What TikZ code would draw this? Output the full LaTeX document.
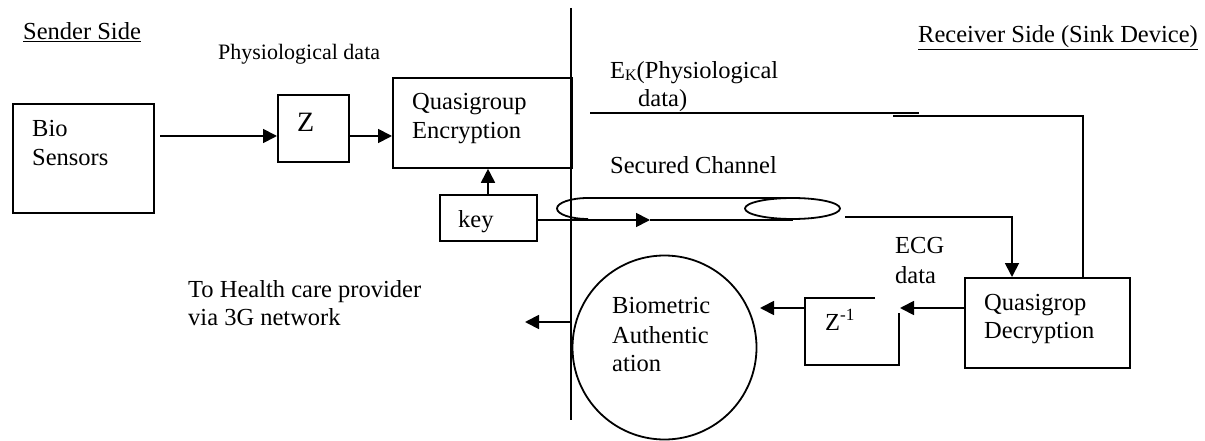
\documentclass[tikz,border=0pt]{standalone}
\usepackage{fontspec}
\setmainfont{Liberation Serif}
\usetikzlibrary{arrows.meta}
\begin{document}
\begin{tikzpicture}[x=1pt,y=-1pt,
  ln/.style={line width=1.8pt},
  tip/.style={-{Triangle[length=14pt,width=14pt]}},
  box/.style={draw,line width=1.8pt,inner sep=0pt,anchor=north west},
  txt/.style={anchor=base west,inner sep=0pt,font=\fontsize{24.5}{28}\selectfont},
  small/.style={anchor=base west,inner sep=0pt,font=\fontsize{22}{26}\selectfont}]
\useasboundingbox (0,0) rectangle (1205,441);
% headings
\node[txt] (sender) at (23,40) {\underline{Sender Side}};
\node[txt,anchor=base east] (receiver) at (1198,43) {\underline{Receiver Side (Sink Device)}};
\node[small] (phys) at (218,60) {Physiological data};
% boxes
\node[box,minimum width=141pt,minimum height=109pt] (bio) at (12,103) {};
\node[txt] (bio1) at (32,137) {Bio};
\node[txt] (bio2) at (32,166) {Sensors};
\node[box,minimum width=71pt,minimum height=67pt] (z) at (277,94) {};
\node[txt,font=\fontsize{28}{30}\selectfont] (zt) at (297,132) {Z};
\node[box,minimum width=179pt,minimum height=90pt] (enc) at (392,77) {};
\node[txt] (enc1) at (412,110) {Quasigroup};
\node[txt] (enc2) at (412,139) {Encryption};
\node[box,minimum width=97pt,minimum height=46pt] (key) at (439,194) {};
\node[txt] (keyt) at (458,227) {key};
\node[box,minimum width=165pt,minimum height=90pt] (dec) at (964,277) {};
\node[txt] (dec1) at (984,310) {Quasigrop};
\node[txt] (dec2) at (984,338) {Decryption};
\node[draw,line width=1.8pt,circle,inner sep=0pt,minimum size=184pt] (auth) at (664.5,347.5) {};
\node[txt] (auth1) at (612,313) {Biometric};
\node[txt] (auth2) at (612,343) {Authentic};
\node[txt] (auth3) at (612,371) {ation};
% Z^-1 open box
\coordinate (zi1) at (875,298);
\coordinate (zi2) at (805,298);
\coordinate (zi3) at (805,365);
\coordinate (zi4) at (899,365);
\coordinate (zi5) at (899,313);
\draw[ln] (zi1) -- (zi2) -- (zi3) -- (zi4) -- (zi5);
\node[txt] (zit) at (825,330) {Z\textsuperscript{-1}};
% labels
\node[txt] (ek1) at (610,79) {E{\fontsize{16}{16}\selectfont\raisebox{-1.5pt}{K}}(Physiological};
\node[txt] (ek2) at (638,107) {data)};
\node[txt] (sec) at (610,173) {Secured Channel};
\node[txt] (ecg1) at (895,253) {ECG};
\node[txt] (ecg2) at (895,283) {data};
\node[txt] (hc1) at (188,297) {To Health care provider};
\node[txt] (hc2) at (188,325) {via 3G network};
% divider
\coordinate (dtop) at (571,8);
\coordinate (dbot) at (571,420);
\draw[ln] (dtop) -- (dbot);
% sender-side arrows
\draw[ln,tip] (160,136) -- (z.west |- 0,136);
\draw[ln,tip] (z.east |- 0,136) -- (enc.west |- 0,136);
\draw[ln,tip] (key.north -| 488,0) -- (enc.south -| 488,0);
% secured channel cylinder
\coordinate (cyl1) at (588,198);
\coordinate (cyl2) at (793,198);
\draw[ln] (cyl2) -- (cyl1) arc[start angle=90,end angle=270,x radius=31pt,y radius=10.5pt];
\draw[ln] (792.5,208.5) ellipse[x radius=47.5pt,y radius=10.5pt];
\coordinate (keyend) at (793,220);
\coordinate (keymid) at (650,220);
\draw[ln,tip] (key.east |- 0,220) -- (keymid);
\draw[ln] (keymid) -- (keyend);
% channel to decryption
\coordinate (ch1) at (845,217);
\coordinate (ch2) at (1012,217);
\draw[ln,tip] (ch1) -- (ch2) -- (dec.north -| ch2);
% E_K line
\coordinate (ek3) at (590,113);
\coordinate (ek4) at (919,113);
\coordinate (ek5) at (893,116);
\coordinate (ek6) at (1083,116);
\draw[ln] (ek3) -- (ek4);
\draw[ln] (ek5) -- (ek6) -- (dec.north -| ek6);
% receiver side arrows
\coordinate (zin) at (900,308);
\draw[ln,tip] (dec.west |- 0,308) -- (zin);
\coordinate (authin) at (760,308);
\draw[ln,tip] (zi2 |- 0,308) -- (authin);
\coordinate (hcout) at (525,322);
\draw[ln,tip] (571,322) -- (hcout);
\end{tikzpicture}
\end{document}
